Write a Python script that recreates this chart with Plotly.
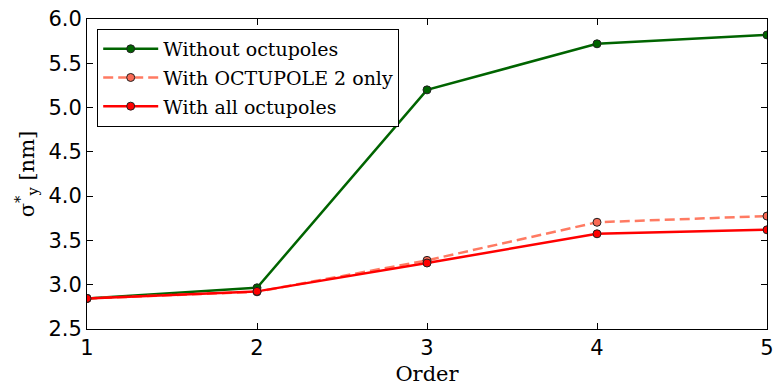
import plotly.graph_objects as go

order = [1, 2, 3, 4, 5]
without_oct = [2.845, 2.965, 5.20, 5.72, 5.82]
oct2_only = [2.845, 2.92, 3.275, 3.705, 3.775]
all_oct = [2.845, 2.925, 3.245, 3.575, 3.62]

names = ["Without octupoles", "With OCTUPOLE 2 only", "With all octupoles"]

fig = go.Figure()
fig.add_trace(go.Scatter(
    x=order, y=without_oct, name=names[0], mode="lines+markers", legendgroup="a",
    line=dict(color="#006400", width=2.5),
    marker=dict(color="#006400", size=8, line=dict(color="#222222", width=1)),
))
fig.add_trace(go.Scatter(
    x=order, y=oct2_only, name=names[1], mode="lines+markers", legendgroup="b",
    line=dict(color="rgba(255,99,71,0.85)", width=2.5, dash="10px,5px"),
    marker=dict(color="#FA6A55", size=8, line=dict(color="#222222", width=1)),
))
fig.add_trace(go.Scatter(
    x=order, y=all_oct, name=names[2], mode="lines+markers", legendgroup="c",
    line=dict(color="#FF0000", width=2.5),
    marker=dict(color="#FF0000", size=8, line=dict(color="#222222", width=1)),
))

axis_common = dict(
    showline=True, linecolor="black", linewidth=1, mirror="ticks",
    ticks="inside", ticklen=6, tickcolor="black", showgrid=False, zeroline=False,
    tickfont=dict(family="DejaVu Sans", size=21, color="black"),
)

fig.update_layout(
    width=781, height=390,
    margin=dict(l=87, r=7, t=17, b=61),
    paper_bgcolor="white", plot_bgcolor="white",
    showlegend=True,
    legend=dict(
        x=0.015, y=0.968, xanchor="left", yanchor="top",
        bordercolor="black", borderwidth=1, bgcolor="white",
        font=dict(family="DejaVu Serif", size=19, color="black"),
        tracegroupgap=1, itemwidth=55,
    ),
    xaxis=dict(range=[1, 5], tickvals=[1, 2, 3, 4, 5], ticktext=["1", "2", "3", "4", "5"],
               title=dict(text="Order", font=dict(family="DejaVu Serif", size=21, color="black"), standoff=7),
               **axis_common),
    yaxis=dict(range=[2.5, 6.0], tickvals=[2.5, 3.0, 3.5, 4.0, 4.5, 5.0, 5.5, 6.0],
               ticktext=["2.5", "3.0", "3.5", "4.0", "4.5", "5.0", "5.5", "6.0"],
               title=dict(text="σ<sup>*</sup><sub>y</sub> [nm]", font=dict(family="DejaVu Serif", size=21, color="black"), standoff=8),
               **axis_common),
)

fig.write_html("out.html", config={"displayModeBar": False},
               post_script="document.body.style.margin='0';")
